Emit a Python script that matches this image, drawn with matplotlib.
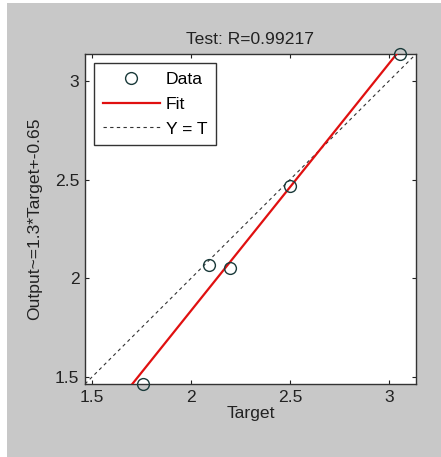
import numpy as np
import matplotlib
matplotlib.use("Agg")
import matplotlib.pyplot as plt
from matplotlib.patches import Rectangle

plt.rcParams['font.family'] = ['Liberation Sans', 'DejaVu Sans']

# Data
targets = [1.755, 2.092, 2.199, 2.500, 3.056]
outputs = [1.464, 2.066, 2.051, 2.467, 3.137]
x_ticks = [1.5, 2.0, 2.5, 3.0]
x_tick_labels = ["1.5", "2", "2.5", "3"]
y_ticks = [1.5, 2.0, 2.5, 3.0]
y_tick_labels = ["1.5", "2", "2.5", "3"]
title_text = "Test: R=0.99217"
ylabel_text = "Output~=1.3*Target+-0.65"
xlabel_text = "Target"

FS = 12.6

fig = plt.figure(figsize=(4.41, 4.57), dpi=100, facecolor='white')
fig.patches.append(Rectangle((7/441, 0), 1 - 7/441, 1 - 3/457,
                             transform=fig.transFigure, facecolor='#c8c8c8',
                             edgecolor='none', zorder=-10))

ax = fig.add_axes([85/441, 1 - 384/457, 331/441, 330/457])
ax.set_facecolor('white')

lo = min(min(targets), min(outputs))
hi = max(max(targets), max(outputs))
ax.set_xlim(lo, hi)
ax.set_ylim(lo, hi)

slope, intercept = np.polyfit(targets, outputs, 1)
lim = np.array([lo, hi])

ax.plot(targets, outputs, linestyle='none', marker='o', markersize=8.5,
        markerfacecolor='none', markeredgecolor='#1a3a3a', markeredgewidth=1.0,
        label='Data', zorder=4, clip_on=False)
ax.plot(lim, slope * lim + intercept, color='#e01010', linewidth=1.6,
        label='Fit', zorder=3)
ax.plot(lim, lim, color='#333333', linestyle=(0, (3, 3)), linewidth=0.8,
        label='Y = T', zorder=2)

ax.set_xticks(x_ticks)
ax.set_xticklabels(x_tick_labels)
ax.set_yticks(y_ticks)
ax.set_yticklabels(y_tick_labels)
ax.tick_params(direction='in', top=True, right=True, length=3, width=0.8,
               labelsize=FS, colors='#222222', pad=4)
for s in ax.spines.values():
    s.set_color('#333333')
    s.set_linewidth(1.0)

ax.set_title(title_text, fontsize=FS, color='#222222', pad=7)
ax.set_xlabel(xlabel_text, fontsize=FS, color='#222222', labelpad=1)
ax.set_ylabel(ylabel_text, fontsize=FS, color='#222222', labelpad=9)

leg = ax.legend(loc='upper left', fontsize=FS, frameon=True, fancybox=False,
                edgecolor='#333333', framealpha=1, borderaxespad=0.5,
                handlelength=3.3, handletextpad=0.3, labelspacing=0.55,
                borderpad=0.5)
leg.get_frame().set_linewidth(1.0)

fig.savefig('out.png', dpi=100, facecolor=fig.get_facecolor())
